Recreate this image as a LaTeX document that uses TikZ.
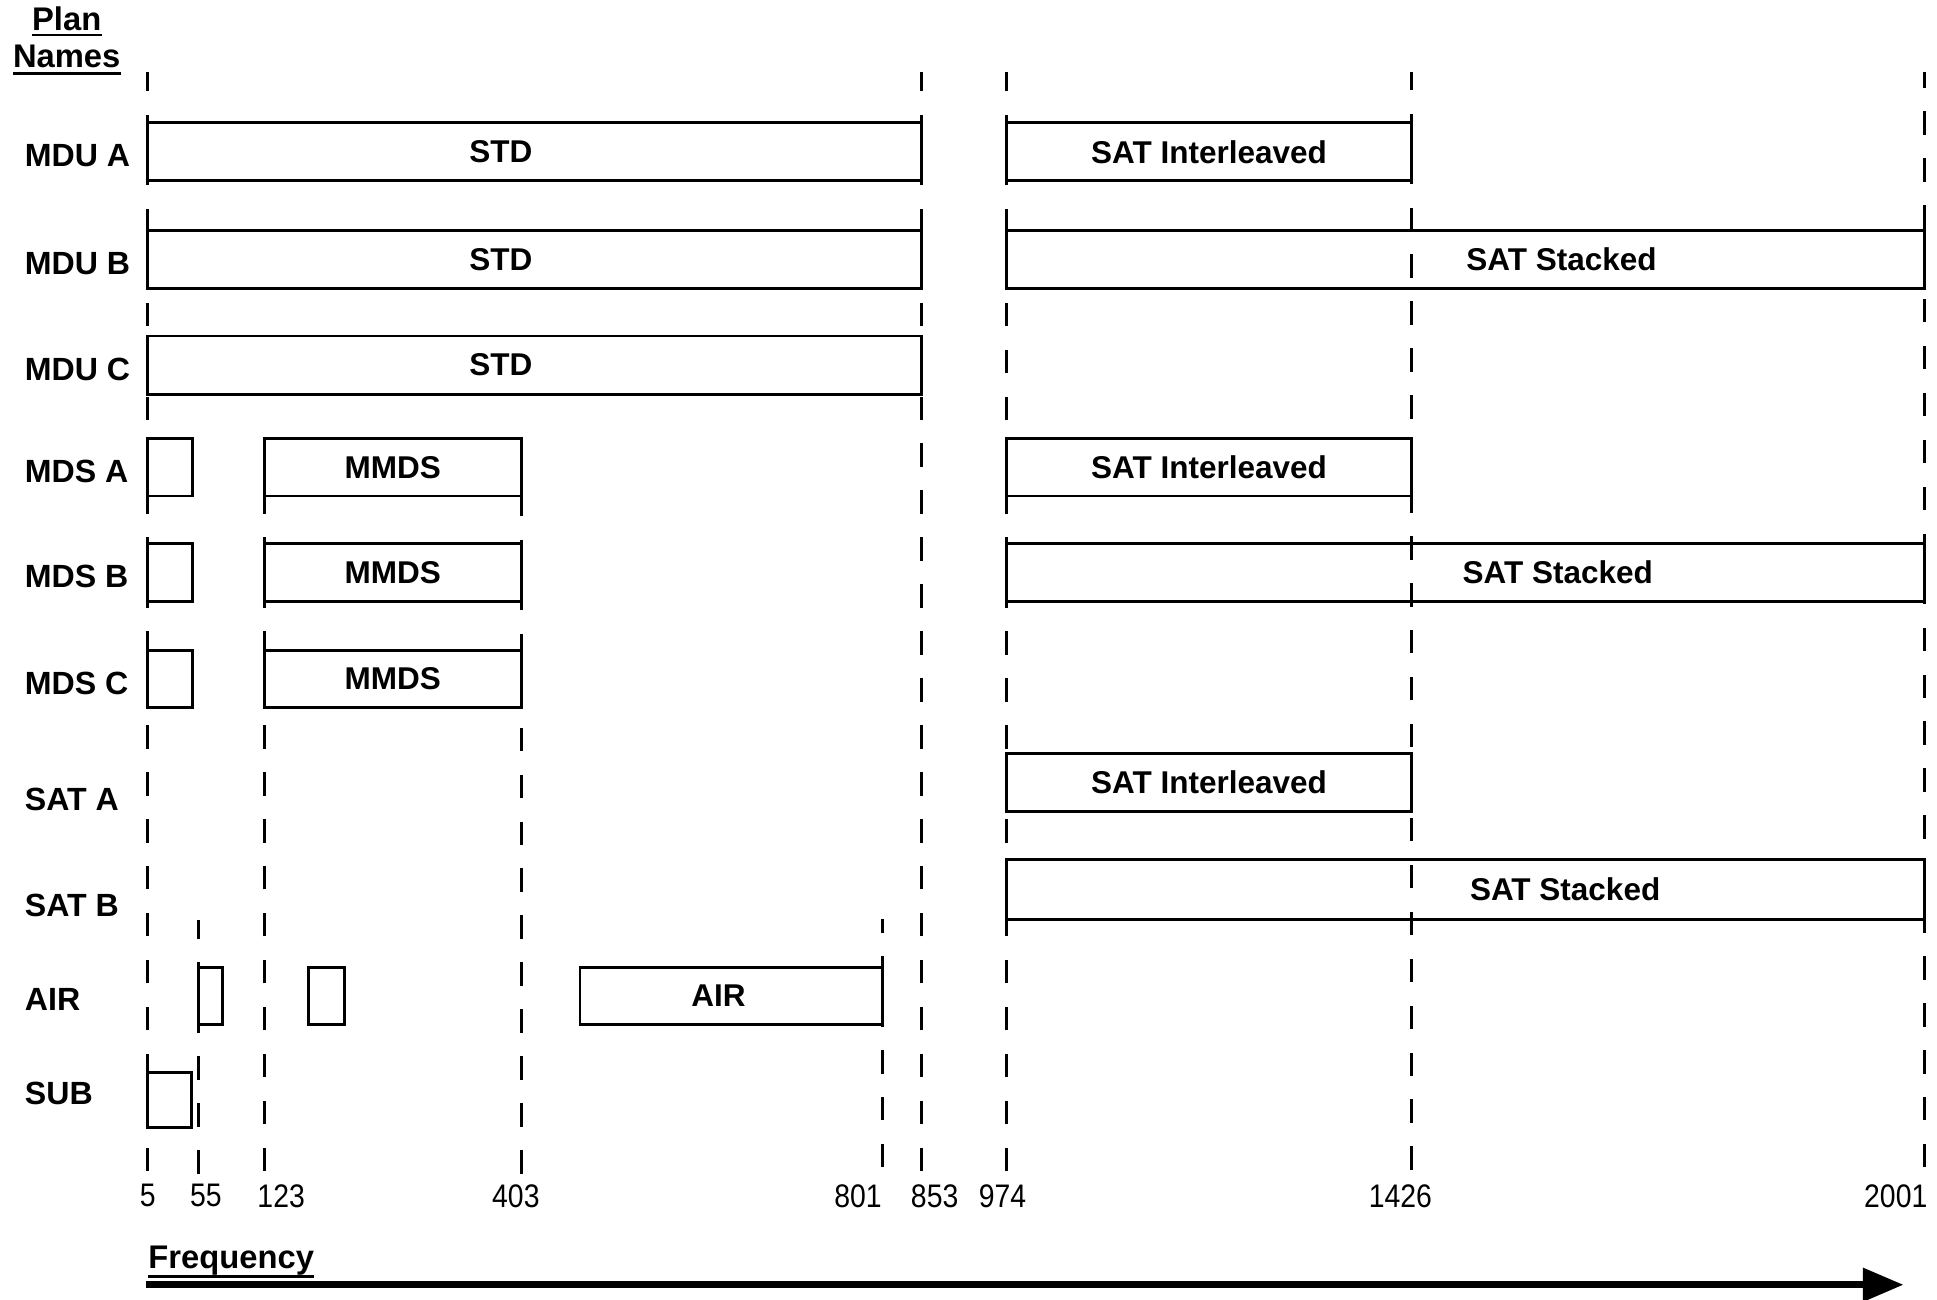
\documentclass[tikz,border=0pt]{standalone}
\usepackage{fontspec}
\setmainfont{Liberation Sans}
\newfontfamily\numfont{Liberation Sans}[FakeStretch=0.87]
\usetikzlibrary{arrows.meta}
\begin{document}
\begin{tikzpicture}[x=1pt,y=-1pt,
  band/.style={draw=black, line width=2.4pt},
  freqline/.style={draw=black, line width=2.2pt, dash pattern=on 19pt off 19pt},
  rowlabel/.style={font=\fontsize{26}{30}\selectfont\bfseries, anchor=west, inner sep=0pt},
  bandlabel/.style={font=\fontsize{25.5}{30}\selectfont\bfseries, inner sep=0pt},
  numlabel/.style={font=\numfont\fontsize{26.4}{30}\selectfont, inner sep=0pt},
  title/.style={font=\fontsize{26.5}{30}\selectfont\bfseries, inner sep=0pt, anchor=base},
  uline/.style={draw=black, line width=2pt},
]
\useasboundingbox (0,0) rectangle (1568,1052);

% frequency reference lines (drawn from bottom upwards)
\coordinate (f5b) at (119.5,948);   \coordinate (f5t) at (119.5,58);
\coordinate (f55b) at (160.5,950);  \coordinate (f55t) at (160.5,745);
\coordinate (f123b) at (214,948);   \coordinate (f123t) at (214,355);
\coordinate (f403b) at (422,950);   \coordinate (f403t) at (422,355);
\coordinate (f801b) at (714.5,945); \coordinate (f801t) at (714.5,744);
\coordinate (f853b) at (746,948);   \coordinate (f853t) at (746,58);
\coordinate (f974b) at (815,948);   \coordinate (f974t) at (815,58);
\coordinate (f1426b) at (1142.5,947); \coordinate (f1426t) at (1142.5,58);
\coordinate (f2001b) at (1558,945); \coordinate (f2001t) at (1558,58);
\foreach \f in {5,55,123,403,801,853,974,1426,2001}{
  \draw[freqline] (f\f b) -- (f\f t);
}

% header
\node[title] (plan) at (54,24.5) {Plan};
\draw[uline] ([yshift=-4pt]plan.base west) -- ([yshift=-4pt]plan.base east);
\node[title] (names) at (54,55) {Names};
\draw[uline] ([yshift=-4.5pt]names.base west) -- ([yshift=-4.5pt]names.base east);

% row labels
\node[rowlabel] (lmdua) at (20,126) {MDU A};
\node[rowlabel] (lmdub) at (20,213) {MDU B};
\node[rowlabel] (lmduc) at (20,299) {MDU C};
\node[rowlabel] (lmdsa) at (20,382) {MDS A};
\node[rowlabel] (lmdsb) at (20,467) {MDS B};
\node[rowlabel] (lmdsc) at (20,553) {MDS C};
\node[rowlabel] (lsata) at (20,647) {SAT A};
\node[rowlabel] (lsatb) at (20,733) {SAT B};
\node[rowlabel] (lair)  at (20,809) {AIR};
\node[rowlabel] (lsub)  at (20,885) {SUB};

% MDU A
\draw[band] (119.5,99.5) rectangle (746,146.5);
\node[bandlabel] (stda) at (405.5,123) {STD};
\draw[band] (815,99.5) rectangle (1142.5,146.5);
\node[bandlabel] (sia) at (978.75,123) {SAT Interleaved};

% MDU B
\draw[band] (119.5,186.5) rectangle (746,233.5);
\node[bandlabel] (stdb) at (405.5,210) {STD};
\draw[band] (815,186.5) rectangle (1558,233.5);
\node[bandlabel] (ssb) at (1264,210) {SAT Stacked};

% MDU C
\draw[band] (119.5,272) rectangle (746,319);
\node[bandlabel] (stdc) at (405.5,295.5) {STD};

% MDS A
\draw[band] (119.5,355) rectangle (156,401.5);
\draw[band] (214,355) rectangle (422,401.5);
\node[bandlabel] (mmdsa) at (318,378.25) {MMDS};
\draw[band] (815,355) rectangle (1142.5,401.5);
\node[bandlabel] (sidsa) at (978.75,378.25) {SAT Interleaved};

% MDS B
\draw[band] (119.5,440) rectangle (156,487);
\draw[band] (214,440) rectangle (422,487);
\node[bandlabel] (mmdsb) at (318,463.5) {MMDS};
\draw[band] (815,440) rectangle (1558,487);
\node[bandlabel] (ssdsb) at (1261,463.5) {SAT Stacked};

% MDS C
\draw[band] (119.5,526.5) rectangle (156,573);
\draw[band] (214,526.5) rectangle (422,573);
\node[bandlabel] (mmdsc) at (318,549.75) {MMDS};

% SAT A
\draw[band] (815,610) rectangle (1142.5,657);
\node[bandlabel] (sisata) at (978.75,633.5) {SAT Interleaved};

% SAT B
\draw[band] (815,696) rectangle (1558,744);
\node[bandlabel] (sssatb) at (1267,720) {SAT Stacked};

% AIR
\draw[band] (160.5,783) rectangle (180.5,829);
\draw[band] (249.5,783) rectangle (278.5,829);
\draw[band] (469.5,783) rectangle (714.5,829);
\node[bandlabel] (airl) at (581.6,806) {AIR};

% SUB
\draw[band] (119.5,868) rectangle (155,913);

% frequency numbers
\node[numlabel] (n5) at (119.6,968) {5};
\node[numlabel] (n55) at (166.6,968) {55};
\node[numlabel] (n123) at (227.6,968) {123};
\node[numlabel] (n403) at (417.6,968) {403};
\node[numlabel] (n801) at (694.6,968) {801};
\node[numlabel] (n853) at (756.6,968) {853};
\node[numlabel] (n974) at (811.6,968) {974};
\node[numlabel] (n1426) at (1133.6,968) {1426};
\node[numlabel] (n2001) at (1534.6,968) {2001};

% frequency axis
\node[title, anchor=base west] (freq) at (120,1027) {Frequency};
\draw[uline] ([yshift=-6.5pt]freq.base west) -- ([yshift=-6.5pt]freq.base east);
\coordinate (axs) at (118,1040);
\coordinate (axe) at (1541,1040);
\draw[line width=6pt, -{Triangle[length=33pt,width=26pt]}] (axs) -- (axe);
\end{tikzpicture}
\end{document}
